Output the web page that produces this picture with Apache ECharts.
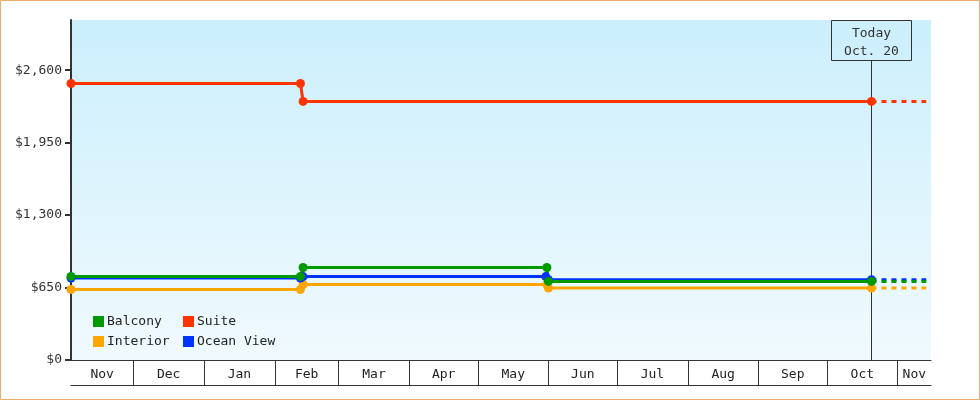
<!DOCTYPE html>
<html>
<head>
<meta charset="utf-8">
<script src="https://cdn.jsdelivr.net/npm/echarts@6/dist/echarts.min.js"></script>
<style>
html,body{margin:0;padding:0;background:#fff;}
#chart{width:980px;height:400px;}
</style>
</head>
<body>
<div id="chart"></div>
<script>
// ---- data ----
const xMinStr = '2022-11-03T17:00';
const xMaxStr = '2023-11-15T14:00';
const todayStr = '2023-10-20T12:00';
const projectionEndStr = '2023-11-13T12:00';
const todayLabel = ['Today', 'Oct. 20'];

const monthStarts = ['2022-12-01','2023-01-01','2023-02-01','2023-03-01','2023-04-01','2023-05-01',
  '2023-06-01','2023-07-01','2023-08-01','2023-09-01','2023-10-01','2023-11-01'];
const monthNames = ['Nov','Dec','Jan','Feb','Mar','Apr','May','Jun','Jul','Aug','Sep','Oct','Nov'];

const yTicks = [0, 650, 1300, 1950, 2600];
const yMax = 3050;

const seriesNames = ['Balcony', 'Suite', 'Interior', 'Ocean View'];

const suiteDates = ['2022-11-03T17:00','2023-02-12T06:00','2023-02-13T10:00','2023-10-20T12:00'];
const suiteValues = [2480, 2480, 2320, 2320];

const balconyDates = ['2022-11-03T17:00','2023-02-12T06:00','2023-02-13T10:00','2023-05-31T06:00','2023-05-31T22:00','2023-10-20T12:00'];
const balconyValues = [750, 750, 830, 830, 705, 705];

const oceanDates = ['2022-11-03T17:00','2023-02-12T06:00','2023-02-13T10:00','2023-05-30T18:00','2023-05-31T22:00','2023-10-20T12:00'];
const oceanValues = [735, 735, 748, 748, 720, 720];

const interiorDates = ['2022-11-03T17:00','2023-02-12T06:00','2023-02-13T10:00','2023-05-31T06:00','2023-05-31T22:00','2023-10-20T12:00'];
const interiorValues = [632, 632, 677, 677, 645, 645];

// ---- helpers ----
function t(s) {
  const parts = s.split('T');
  const d = parts[0].split('-').map(Number);
  const tm = (parts[1] || '00:00').split(':').map(Number);
  return new Date(d[0], d[1] - 1, d[2], tm[0], tm[1]).getTime();
}
const xMin = t(xMinStr), xMax = t(xMaxStr), today = t(todayStr), projEnd = t(projectionEndStr);
const monthTicks = monthStarts.map(t);
const bounds = [xMin].concat(monthTicks, [xMax]);
const labelPos = [];
for (let i = 0; i < bounds.length - 1; i++) labelPos.push((bounds[i] + bounds[i + 1]) / 2);

function pairs(dates, vals) { return dates.map((d, i) => [t(d), vals[i]]); }

const FONT = 'DejaVu Sans Mono';
const colors = { 'Balcony': '#009900', 'Suite': '#FF3300', 'Interior': '#FFA500', 'Ocean View': '#0033FF' };

function mainSeries(name, data) {
  return {
    type: 'line', name: name, data: data, xAxisIndex: 0, yAxisIndex: 0,
    symbol: 'circle', symbolSize: 9, clip: false,
    lineStyle: { color: colors[name], width: 3 },
    itemStyle: { color: colors[name] },
    emphasis: { disabled: true }
  };
}
function projSeries(name, value) {
  return {
    type: 'line', name: name, data: [[today, value], [projEnd, value]],
    showSymbol: false, symbol: 'none',
    lineStyle: { color: colors[name], width: 3, type: [5, 5] },
    itemStyle: { color: colors[name] },
    emphasis: { disabled: true }
  };
}

const chart = echarts.init(document.getElementById('chart'), null, { renderer: 'canvas' });

const option = {
  animation: false,
  graphic: [{
    type: 'rect', shape: { x: 0.5, y: 0.5, width: 979, height: 399 },
    style: { fill: 'none', stroke: '#EBAC6A', lineWidth: 1 }, silent: true
  }],
  grid: {
    left: 71, right: 49, top: 20, bottom: 40, show: true, borderWidth: 0,
    backgroundColor: new echarts.graphic.LinearGradient(0, 0, 0, 1, [
      { offset: 0, color: '#CBEFFC' }, { offset: 1, color: '#F0FAFE' }
    ])
  },
  legend: [
    {
      data: ['Balcony', 'Interior'], orient: 'vertical', left: 93, top: 315,
      itemWidth: 11, itemHeight: 11, itemGap: 7, icon: 'rect', padding: 0,
      textStyle: { fontFamily: FONT, fontSize: 13, color: '#222', padding: [0, 0, 0, -2] },
      selectedMode: false
    },
    {
      data: ['Suite', 'Ocean View'], orient: 'vertical', left: 183, top: 315,
      itemWidth: 11, itemHeight: 11, itemGap: 7, icon: 'rect', padding: 0,
      textStyle: { fontFamily: FONT, fontSize: 13, color: '#222', padding: [0, 0, 0, -2] },
      selectedMode: false
    }
  ],
  xAxis: [
    {
      type: 'value', min: xMin, max: xMax, position: 'bottom',
      axisLine: { show: true, lineStyle: { color: '#333', width: 1 } },
      axisTick: { show: true, customValues: monthTicks, length: 25, lineStyle: { color: '#333', width: 1 } },
      axisLabel: {
        customValues: labelPos, margin: 8, fontFamily: FONT, fontSize: 13, color: '#222',
        formatter: function (v) {
          let best = 0, bd = Infinity;
          for (let i = 0; i < labelPos.length; i++) {
            const d = Math.abs(labelPos[i] - v);
            if (d < bd) { bd = d; best = i; }
          }
          return monthNames[best];
        }
      },
      splitLine: { show: false }
    },
    {
      type: 'value', min: xMin, max: xMax, position: 'bottom', offset: 25,
      axisLine: { show: true, lineStyle: { color: '#333', width: 1 } },
      axisTick: { show: false }, axisLabel: { show: false }, splitLine: { show: false }
    }
  ],
  yAxis: {
    type: 'value', min: 0, max: yMax,
    axisLine: { show: true, lineStyle: { color: '#333', width: 2 } },
    axisTick: { show: true, customValues: yTicks, length: 6, lineStyle: { color: '#333', width: 2 } },
    axisLabel: {
      customValues: yTicks, margin: 9, fontFamily: FONT, fontSize: 13, color: '#333',
      formatter: function (v) { return '$' + Number(v).toLocaleString('en-US'); }
    },
    splitLine: { show: false }
  },
  series: [
    {
      type: 'custom', name: 'today', silent: true, clip: false, z: 1,
      data: [[today, 0]],
      renderItem: function (params, api) {
        const p = api.coord([api.value(0), 0]);
        const cs = params.coordSys;
        const x = Math.round(p[0]) + 0.5;
        const top = cs.y;
        const bottom = cs.y + cs.height;
        return {
          type: 'group',
          children: [
            { type: 'line', shape: { x1: x, y1: top + 40.5, x2: x, y2: bottom },
              style: { stroke: '#333', lineWidth: 1 } },
            { type: 'rect', shape: { x: x - 40, y: top + 0.5, width: 80, height: 40 },
              style: { fill: 'none', stroke: '#333', lineWidth: 1 } },
            { type: 'text', style: {
                text: todayLabel.join('\n'), x: x, y: top + 22.5,
                align: 'center', verticalAlign: 'middle',
                font: '13px ' + FONT, fill: '#333', lineHeight: 18 } }
          ]
        };
      }
    },
    mainSeries('Suite', pairs(suiteDates, suiteValues)),
    mainSeries('Interior', pairs(interiorDates, interiorValues)),
    mainSeries('Ocean View', pairs(oceanDates, oceanValues)),
    mainSeries('Balcony', pairs(balconyDates, balconyValues)),
    projSeries('Suite', suiteValues[suiteValues.length - 1]),
    projSeries('Interior', interiorValues[interiorValues.length - 1]),
    projSeries('Ocean View', oceanValues[oceanValues.length - 1]),
    projSeries('Balcony', balconyValues[balconyValues.length - 1])
  ]
};
chart.setOption(option);
</script>
</body>
</html>
